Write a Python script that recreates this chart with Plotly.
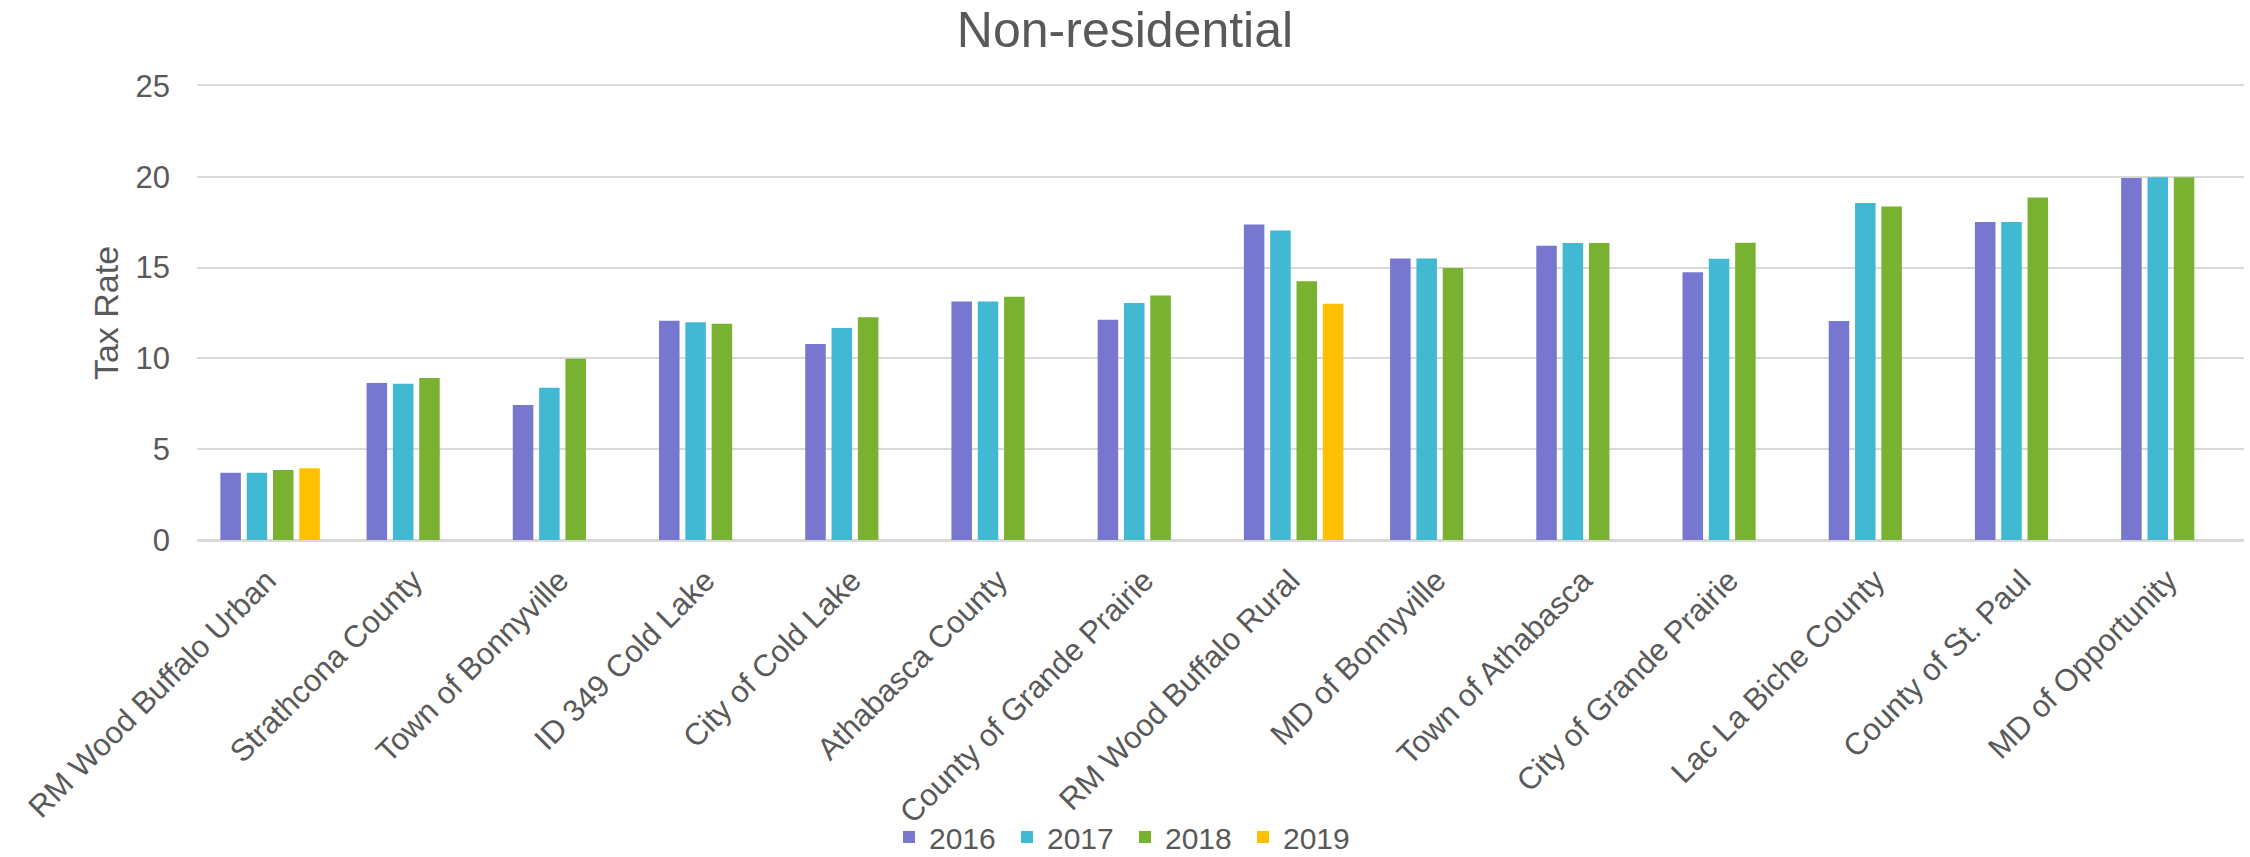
import plotly.graph_objects as go

categories = ["RM Wood Buffalo Urban", "Strathcona County", "Town of Bonnyville",
              "ID 349 Cold Lake", "City of Cold Lake", "Athabasca County",
              "County of Grande Prairie", "RM Wood Buffalo Rural", "MD of Bonnyville",
              "Town of Athabasca", "City of Grande Prairie", "Lac La Biche County",
              "County of St. Paul", "MD of Opportunity"]

rate_2016 = [3.71, 8.64, 7.43, 12.08, 10.79, 13.13, 12.13, 17.37, 15.50, 16.20, 14.75, 12.06, 17.51, 19.93]
rate_2017 = [3.71, 8.60, 8.38, 11.99, 11.67, 13.13, 13.05, 17.04, 15.50, 16.35, 15.49, 18.56, 17.51, 19.98]
rate_2018 = [3.86, 8.92, 9.98, 11.91, 12.26, 13.40, 13.46, 14.25, 14.98, 16.35, 16.37, 18.36, 18.86, 19.98]
rate_2019 = [3.95, None, None, None, None, None, None, 13.01, None, None, None, None, None, None]

series = [("2016", rate_2016, "#7777D0"),
          ("2017", rate_2017, "#42B9D2"),
          ("2018", rate_2018, "#78B230"),
          ("2019", rate_2019, "#FFC000")]

FONT = "Arial, Liberation Sans, sans-serif"
GREY = "#595959"

fig = go.Figure()
for name, vals, color in series:
    fig.add_trace(go.Bar(name=name, x=categories, y=vals,
                         marker=dict(color=color, line=dict(width=0))))

fig.update_layout(
    template="none",
    width=2250, height=857,
    paper_bgcolor="white", plot_bgcolor="white",
    barmode="group", bargap=0.28, bargroupgap=0.22,
    margin=dict(l=197, r=6, t=86, b=317),
    font=dict(family=FONT, color=GREY, size=31),
    title=dict(text="Non-residential", x=0.5, xanchor="center", xref="container",
               y=1 - 29 / 857, yanchor="middle", yref="container",
               font=dict(size=50, color=GREY, family=FONT)),
    legend=dict(orientation="h", xref="container", yref="container",
                x=0.5, xanchor="center", y=(857 - 837) / 857, yanchor="middle",
                font=dict(size=30, color=GREY), entrywidth=73, traceorder="normal",
                bgcolor="rgba(0,0,0,0)"),
    showlegend=True,
)
fig.update_yaxes(range=[0, 25], tick0=0, dtick=5, showgrid=True, gridcolor="#D9D9D9", gridwidth=2,
                 zeroline=True, zerolinecolor="#D9D9D9", zerolinewidth=2,
                 showline=False, ticks="", ticklabelstandoff=26, automargin=False,
                 tickfont=dict(size=31, color=GREY),
                 title=dict(text="Tax Rate", font=dict(size=34, color=GREY), standoff=6))
fig.update_xaxes(tickangle=-45, showgrid=False, showline=True, mirror=True,
                 linecolor="#D9D9D9", linewidth=2, ticks="", automargin=False,
                 ticklabelstandoff=8, ticklabelshift=-3,
                 tickfont=dict(size=31, color=GREY))

fig.write_html("out.html", config={"displayModeBar": False},
               post_script="document.body.style.margin='0';")
